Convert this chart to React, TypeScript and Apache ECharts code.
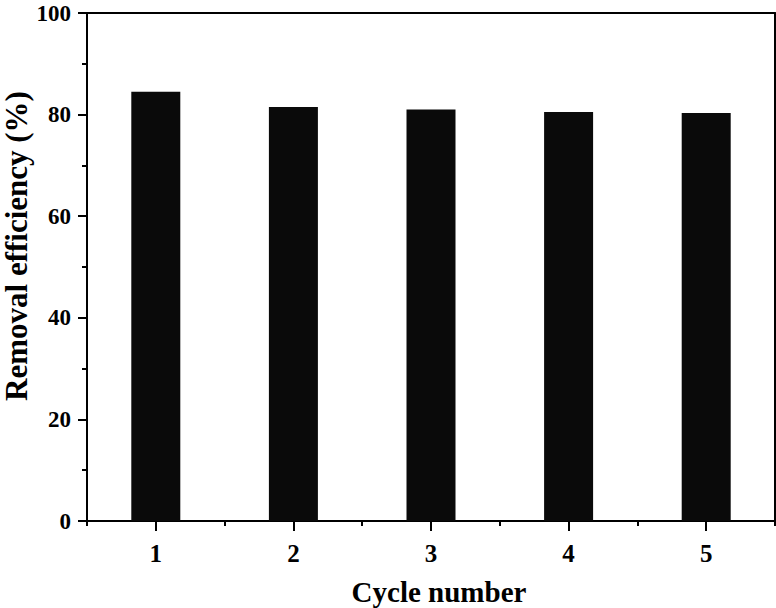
import React, { useEffect, useRef } from "react";
import * as echarts from "echarts";

const categories = ["1", "2", "3", "4", "5"];
const removalEfficiency = [84.5, 81.5, 81.0, 80.5, 80.3];
const yTicks = { min: 0, max: 100, interval: 20 };
const xTitle = "Cycle number";
const yTitle = "Removal efficiency (%)";

const FONT = "'Liberation Serif', 'Times New Roman', serif";

export default function App() {
  const ref = useRef<HTMLDivElement>(null);
  useEffect(() => {
    if (!ref.current) return;
    const chart = echarts.init(ref.current, undefined, { renderer: "svg" });
    const lineStyle = { color: "#000", width: 2 };
    chart.setOption({
      animation: false,
      backgroundColor: "#fff",
      grid: { left: 87, right: 1, top: 13, bottom: 87, containLabel: false, outerBoundsMode: "none" },
      xAxis: [
        {
          type: "category",
          data: categories,
          position: "bottom",
          axisLine: { show: true, onZero: false, lineStyle },
          axisTick: { show: true, alignWithLabel: true, length: 10, inside: false, lineStyle },
          axisLabel: { show: true, margin: 20, fontFamily: FONT, fontWeight: "bold", fontSize: 25, color: "#000" },
          splitLine: { show: false },
          name: xTitle,
          nameLocation: "middle",
          nameGap: 56,
          nameTextStyle: { fontFamily: FONT, fontWeight: "bold", fontSize: 29, color: "#000", padding: [0, 0, 0, 16] },
        },
        {
          type: "category",
          data: categories,
          position: "bottom",
          axisLine: { show: false },
          axisTick: { show: true, length: 5, inside: false, lineStyle },
          axisLabel: { show: false },
          splitLine: { show: false },
        },
        {
          type: "category",
          data: categories,
          position: "top",
          axisLine: { show: true, onZero: false, lineStyle },
          axisTick: { show: false },
          axisLabel: { show: false },
          splitLine: { show: false },
        },
      ],
      yAxis: [
        {
          type: "value",
          min: yTicks.min,
          max: yTicks.max,
          interval: yTicks.interval,
          position: "left",
          axisLine: { show: true, onZero: false, lineStyle },
          axisTick: { show: true, length: 9, inside: false, lineStyle },
          minorTick: { show: true, splitNumber: 2, length: 5, lineStyle: { color: "#000", width: 2 } },
          axisLabel: { show: true, margin: 16, fontFamily: FONT, fontWeight: "bold", fontSize: 23, lineHeight: 19, color: "#000" },
          splitLine: { show: false },
        },
        {
          type: "value",
          min: yTicks.min,
          max: yTicks.max,
          interval: yTicks.interval,
          position: "right",
          axisLine: { show: true, onZero: false, lineStyle },
          axisTick: { show: false },
          axisLabel: { show: false },
          splitLine: { show: false },
        },
      ],
      graphic: [
        {
          type: "text",
          x: 16,
          y: 246,
          rotation: Math.PI / 2,
          style: {
            text: yTitle,
            fontFamily: FONT,
            fontWeight: "bold",
            fontSize: 31,
            fill: "#000",
            align: "center",
            verticalAlign: "middle",
          },
        },
      ],
      series: [
        {
          type: "bar",
          data: removalEfficiency,
          xAxisIndex: 0,
          yAxisIndex: 0,
          barWidth: 49,
          itemStyle: { color: "#0a0a0a" },
        },
      ],
    });
    return () => chart.dispose();
  }, []);
  return <div ref={ref} style={{ width: 776, height: 608, position: "absolute", left: 0, top: 0 }} />;
}
